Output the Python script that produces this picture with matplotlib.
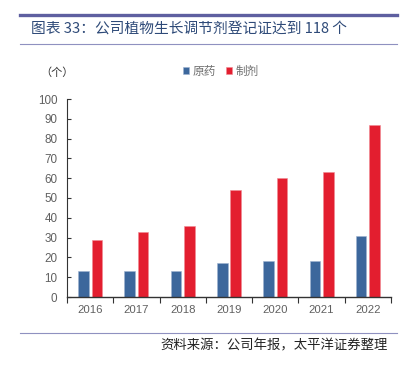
import matplotlib
matplotlib.use('Agg')
import matplotlib.pyplot as plt
from matplotlib.lines import Line2D
import numpy as np

plt.rcParams['font.family'] = ['Noto Sans CJK SC', 'DejaVu Sans']

years = ['2016', '2017', '2018', '2019', '2020', '2021', '2022']
yuanyao = [13, 13, 13, 17, 18, 18, 31]   # 原药
zhiji = [29, 33, 36, 54, 60, 63, 87]     # 制剂

blue = '#3C679C'
red = '#E31E2F'
grey = '#606060'
rule = '#5E5FA0'

fig = plt.figure(figsize=(4.10, 3.68), dpi=100)

# header / footer rules
fig.add_artist(Line2D([20/410, 397/410], [0.959, 0.959], color=rule, lw=2.4))
fig.add_artist(Line2D([20/410, 397/410], [0.880, 0.880], color='#8F91C0', lw=0.8))
fig.add_artist(Line2D([20/410, 397/410], [0.095, 0.095], color='#8F91C0', lw=0.8))

fig.text(31/410, 0.921, '图表 33：公司植物生长调节剂登记证达到 118 个',
         fontsize=10.6, color='#2E4A78', va='center', ha='left')
fig.text(388/410, 0.060, '资料来源：公司年报，太平洋证券整理',
         fontsize=9.6, color='#222222', va='center', ha='right', style='italic')
fig.text(57/410, 0.803, '（个）', fontsize=8, color='#333333', va='center', ha='center')

ax = fig.add_axes([67/410, 71/368, 324/410, 198/368])
x = np.arange(len(years))
w = 0.23
ax.bar(x - 0.145, yuanyao, w, color=blue, edgecolor='#9DB3D0', linewidth=0.4, label='原药')
ax.bar(x + 0.145, zhiji, w, color=red, edgecolor='#F08A94', linewidth=0.4, label='制剂')

ax.set_xlim(-0.5, 6.5)
ax.set_ylim(0, 100)
ax.set_yticks(range(0, 101, 10))
ax.set_xticks(x)
ax.set_xticklabels(years)
ax.set_xticks(np.arange(-0.5, 7, 1), minor=True)
ax.tick_params(axis='x', which='major', length=0, pad=6, labelsize=8.2, labelcolor=grey)
ax.tick_params(axis='x', which='minor', length=4, direction='out', color='#333333', width=0.8)
ax.tick_params(axis='y', length=3, direction='in', labelsize=8.4, labelcolor=grey,
               color='#333333', width=0.8, pad=7)
for lab in ax.get_xticklabels() + ax.get_yticklabels():
    lab.set_family(['Liberation Sans', 'DejaVu Sans'])
for s in ['top', 'right']:
    ax.spines[s].set_visible(False)
ax.spines['left'].set_color('#333333')
ax.spines['bottom'].set_color('#333333')
ax.spines['left'].set_linewidth(0.8)
ax.spines['bottom'].set_linewidth(1.0)

fig.legend(loc='center', bbox_to_anchor=(221/410, 0.807), ncol=2, frameon=False,
           fontsize=8.4, handlelength=0.5, handleheight=0.5, handletextpad=0.3,
           columnspacing=0.9, labelcolor='#707070')

fig.savefig('out.png', dpi=100)
